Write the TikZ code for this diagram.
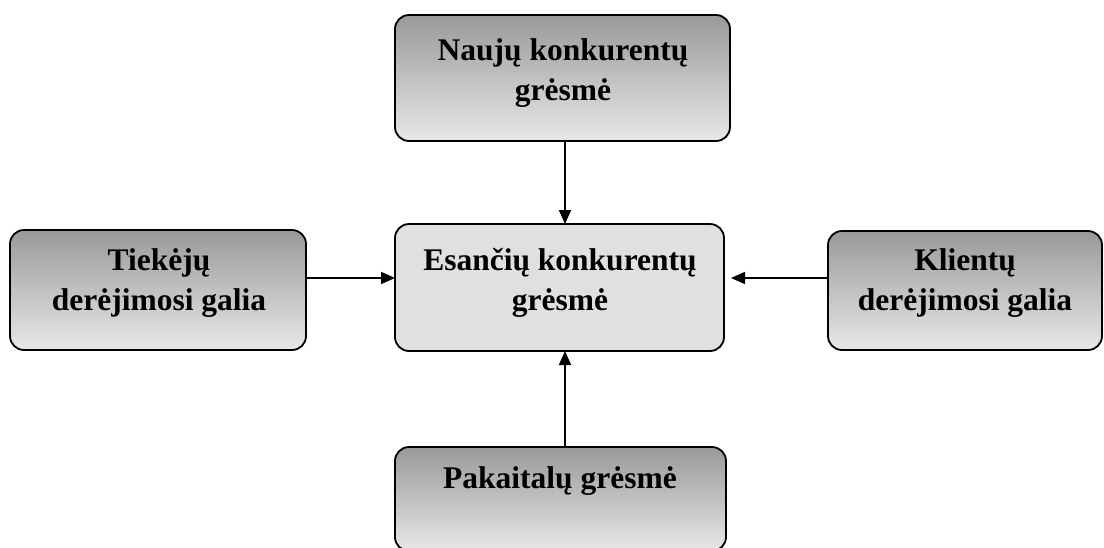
\documentclass[tikz,border=0pt]{standalone}
\usepackage{fontspec}
\setmainfont{Liberation Serif}
\usetikzlibrary{arrows.meta}
\tikzset{
  force/.style={draw=black, line width=1.8pt, rounded corners=14pt,
    top color=black!40, bottom color=black!9, shading angle=0},
  rival/.style={draw=black, line width=1.8pt, rounded corners=14pt, fill=black!12},
  lbl/.style={font=\fontsize{31.5}{40}\selectfont\bfseries, align=center, inner sep=0pt, anchor=base},
  push/.style={line width=1.8pt, -{Triangle[length=14pt,width=12pt]}}
}
\begin{document}
\begin{tikzpicture}[x=1pt,y=-1pt]
\useasboundingbox (0,0) rectangle (1104,547);
% five boxes of the model
\path[force] (395,15) rectangle (730,141);
\path[rival] (395,224) rectangle (724,351);
\path[force] (10,230) rectangle (306,350);
\path[force] (828,231) rectangle (1102,350);
\path[force] (395,447) rectangle (726,551);
% box anchors for the connectors
\coordinate (naujB) at (565,141);
\coordinate (esT) at (565,224);
\coordinate (esL) at (395,278);
\coordinate (esR) at (731,278);
\coordinate (esB) at (565,351);
\coordinate (tiekR) at (306,278);
\coordinate (klR) at (828,278);
\coordinate (pakT) at (565,447);
% labels (anchored on the baseline of the last line)
\node[lbl] (nauj) at (563,100) {Naujų konkurentų\\grėsmė};
\node[lbl] (es) at (560,310) {Esančių konkurentų\\grėsmė};
\node[lbl] (tiek) at (159,310) {Tiekėjų\\derėjimosi galia};
\node[lbl] (kl) at (965,310) {Klientų\\derėjimosi galia};
\node[lbl] (pak) at (560,488) {Pakaitalų grėsmė};
% forces acting on the rivalry
\draw[push] (naujB) -- (esT);
\draw[push] (tiekR) -- (esL);
\draw[push] (klR) -- (esR);
\draw[push] (pakT) -- (esB);
\end{tikzpicture}
\end{document}
